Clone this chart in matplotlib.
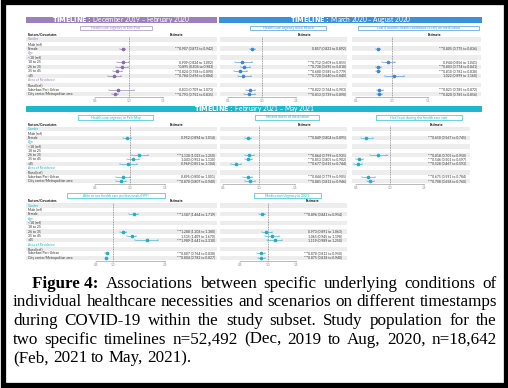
import matplotlib
matplotlib.use("Agg")
import matplotlib.pyplot as plt
from matplotlib.patches import Rectangle
import matplotlib.transforms as mtransforms
import numpy as np

W, H, DPI = 508, 388, 100

# ---------------- data ----------------
covariates = ["Gender", "Male (ref)", "Female", "Age", "<18 (ref)", "18 to 25",
              "26 to 35", "35 to 45", ">45", "Area of Residence", "Rural (ref)",
              "Suburban/Peri-Urban", "City center/Metropolitan area"]
group_rows = ["Gender", "Age", "Area of Residence"]
nan = np.nan

timeline_1 = "December 2019 \u2013 February 2020"
timeline_2 = "March 2020 \u2013 August 2020"
timeline_3 = "February 2021 \u2013 May 2021"

# Panel 1: Health care urgency in Dec-Feb
p1_title = "Health care urgency in Dec-Feb"
p1_est = [nan, nan, 0.907, nan, nan, 0.909, 0.895, 0.824, 0.784, nan, nan, 0.833, 0.793]
p1_lo  = [nan, nan, 0.873, nan, nan, 0.824, 0.804, 0.758, 0.696, nan, nan, 0.709, 0.752]
p1_hi  = [nan, nan, 0.942, nan, nan, 1.002, 0.983, 0.890, 0.884, nan, nan, 1.073, 0.835]
p1_sig = ["", "", "***", "", "", "", "*", "***", "***", "", "", "", "***"]

# Panel 2: Health care urgency since March
p2_title = "Health care urgency since March"
p2_est = [nan, nan, 0.857, nan, nan, 0.712, 0.738, 0.680, 0.720, nan, nan, 0.822, 0.813]
p2_lo  = [nan, nan, 0.823, nan, nan, 0.609, 0.695, 0.585, 0.640, nan, nan, 0.764, 0.739]
p2_hi  = [nan, nan, 0.892, nan, nan, 0.855, 0.818, 0.779, 0.840, nan, nan, 0.903, 0.890]
p2_sig = ["", "", "", "", "", "***", "***", "***", "***", "", "", "***", "***"]

# Panel 3: Last 6 months health conditions to rely on medication
p3_title = "Last 6 months health conditions to rely on medication"
p3_est = [nan, nan, 0.805, nan, nan, 0.944, 0.803, 0.810, 1.022, nan, nan, 0.821, 0.820]
p3_lo  = [nan, nan, 0.775, nan, nan, 0.856, 0.774, 0.782, 0.899, nan, nan, 0.785, 0.785]
p3_hi  = [nan, nan, 0.836, nan, nan, 1.041, 0.841, 0.838, 1.160, nan, nan, 0.872, 0.856]
p3_sig = ["", "", "***", "", "", "", "***", "***", "", "", "", "***", "***"]

# Panel 4: Health care urgency in Feb-May
p4_title = "Health care urgency in Feb-May"
p4_est = [nan, nan, 0.952, nan, nan, nan, 1.130, 1.043, 0.969, nan, nan, 0.895, 0.870]
p4_lo  = [nan, nan, 0.894, nan, nan, nan, 1.023, 0.953, 0.851, nan, nan, 0.800, 0.807]
p4_hi  = [nan, nan, 1.014, nan, nan, nan, 1.250, 1.130, 1.104, nan, nan, 1.001, 0.940]
p4_sig = ["", "", "", "", "", "", "***", "", "", "", "", "", "***"]

# Panel 5: Missed doses of medication
p5_title = "Missed doses of medication"
p5_est = [nan, nan, 0.849, nan, nan, nan, 0.864, 0.853, 0.677, nan, nan, 0.844, 0.881]
p5_lo  = [nan, nan, 0.804, nan, nan, nan, 0.799, 0.805, 0.615, nan, nan, 0.779, 0.812]
p5_hi  = [nan, nan, 0.895, nan, nan, nan, 0.935, 0.902, 0.744, nan, nan, 0.905, 0.946]
p5_sig = ["", "", "***", "", "", "", "***", "***", "***", "", "", "***", "***"]

# Panel 6: Had fever during the health care visit
p6_title = "Had fever during the health care visit"
p6_est = [nan, nan, 0.650, nan, nan, nan, 0.818, 0.546, 0.528, nan, nan, 0.675, 0.708]
p6_lo  = [nan, nan, 0.567, nan, nan, nan, 0.705, 0.501, 0.467, nan, nan, 0.591, 0.658]
p6_hi  = [nan, nan, 0.745, nan, nan, nan, 0.950, 0.597, 0.593, nan, nan, 0.784, 0.760]
p6_sig = ["", "", "***", "", "", "", "***", "***", "***", "", "", "***", "***"]

# Panel 7: Able to see health care professionals (HP)?
p7_title = "Able to see health care professionals (HP)?"
p7_est = [nan, nan, 1.587, nan, nan, nan, 1.288, 1.535, 1.989, nan, nan, 0.807, 0.804]
p7_lo  = [nan, nan, 1.464, nan, nan, nan, 1.208, 1.409, 1.641, nan, nan, 0.764, 0.782]
p7_hi  = [nan, nan, 1.719, nan, nan, nan, 1.380, 1.670, 2.310, nan, nan, 0.838, 0.827]
p7_sig = ["", "", "***", "", "", "", "***", "", "***", "", "", "***", "***"]

# Panel 8: Medication Urgency in 2021
p8_title = "Medication Urgency in 2021"
p8_est = [nan, nan, 0.896, nan, nan, nan, 0.973, 1.065, 1.119, nan, nan, 0.878, 0.875]
p8_lo  = [nan, nan, 0.841, nan, nan, nan, 0.891, 0.945, 0.989, nan, nan, 0.812, 0.818]
p8_hi  = [nan, nan, 0.954, nan, nan, nan, 1.063, 1.198, 1.250, nan, nan, 0.950, 0.940]
p8_sig = ["", "", "***", "", "", "", "", "", "", "", "", "***", "***"]

caption_bold = "Figure 4:"
caption_lines = [
    "Associations between specific underlying conditions of",
    "individual healthcare necessities and scenarios on different timestamps",
    "during COVID-19 within the study subset. Study population for the",
    "two specific timelines n=52,492 (Dec, 2019 to Aug, 2020, n=18,642",
    "(Feb, 2021 to May, 2021).",
]

# ---------------- style ----------------
PURPLE = "#9c80bb"
BLUE = "#3b90da"
CYAN = "#1db8cc"
PT_PURPLE = "#8a6aae"
PT_BLUE = "#3f86d2"
PT_CYAN = "#22aec6"
BAND = "#ededed"
SANS = ["Lato", "DejaVu Sans"]

fig = plt.figure(figsize=(W / DPI, H / DPI), dpi=DPI)
fig.patch.set_facecolor("white")


def add_ax(x0, x1, y0, y1, z=1):
    ax = fig.add_axes([x0 / W, 1 - y1 / H, (x1 - x0) / W, (y1 - y0) / H])
    ax.set_zorder(z)
    return ax


def fx(x):
    return x / W


def fy(y):
    return 1 - y / H


def header_bar(x0, x1, y0, y1, color, text):
    fig.patches.append(Rectangle((fx(x0), fy(y1)), fx(x1 - x0), (y1 - y0) / H,
                                 transform=fig.transFigure, fc=color, ec="none", zorder=0))
    fig.text(fx((x0 + x1) / 2), fy((y0 + y1) / 2), r"$\bf{TIMELINE:}$ " + text,
             color="white", ha="center", va="center", fontsize=4.7, family=SANS)


def subtitle(x0, x1, yc, color, text):
    fig.patches.append(Rectangle((fx(x0), fy(yc + 2.3)), fx(x1 - x0), 4.6 / H,
                                 transform=fig.transFigure, fc="white", ec=color, lw=0.45, zorder=2))
    fig.text(fx((x0 + x1) / 2), fy(yc), text, color=color, ha="center", va="center",
             fontsize=2.5, family=SANS, zorder=3)


def panel(est, lo, hi, sig, color, ptcolor, row0, pitch, axis_y,
          band, forest, or_range, ticks, est_hdr_x, est_right, label_x=None):
    y_top = row0 - 1.5 * pitch
    idx_bottom = (axis_y - row0) / pitch
    bg = add_ax(band[0], band[1], y_top, axis_y, z=1)
    bg.set_xlim(0, 1)
    bg.set_ylim(idx_bottom, -1.5)
    bg.axis("off")
    for i in range(len(covariates)):
        if i % 2 == 0:
            bg.axhspan(i - 0.5, i + 0.5, color=BAND, lw=0)
    trans = mtransforms.blended_transform_factory(fig.transFigure, bg.transData)
    if label_x is not None:
        bg.text(fx(label_x), -1, "Factors/Covariates", transform=trans, fontsize=2.4,
                fontweight="bold", va="center", ha="left", family=SANS)
        for i, lab in enumerate(covariates):
            c = color if lab in group_rows else "#333333"
            bg.text(fx(label_x), i, lab, transform=trans, fontsize=2.4, color=c,
                    va="center", ha="left", family=SANS)
    bg.text(fx(est_hdr_x), -1, "Estimate", transform=trans, fontsize=2.4,
            fontweight="bold", va="center", ha="center", family=SANS)
    for i in range(len(covariates)):
        if not np.isnan(est[i]):
            s = f"{sig[i]}{est[i]:.3f} ({lo[i]:.3f} to {hi[i]:.3f})"
            bg.text(fx(est_right), i, s, transform=trans, fontsize=2.4, color="#333333",
                    va="center", ha="right", family=SANS)
    ax = add_ax(forest[0], forest[1], y_top, axis_y, z=2)
    ax.patch.set_alpha(0)
    ax.set_xlim(*or_range)
    ax.set_ylim(idx_bottom, -1.5)
    for sp in ["left", "top", "right"]:
        ax.spines[sp].set_visible(False)
    ax.spines["bottom"].set_color("#888888")
    ax.spines["bottom"].set_linewidth(0.4)
    ax.set_yticks([])
    ax.set_xticks(ticks)
    ax.set_xticklabels([f"{t:.1f}" for t in ticks], fontsize=2.3, color="#777777", family=SANS)
    ax.tick_params(axis="x", length=1.2, width=0.3, pad=0.6, colors="#888888")
    ax.plot([1, 1], [-0.6, idx_bottom], ls=(0, (1.5, 1.2)), color="#666666", lw=0.45)
    rows = np.arange(len(covariates))
    e = np.array(est)
    ok = ~np.isnan(e)
    ax.errorbar(e[ok], rows[ok],
                xerr=[e[ok] - np.array(lo)[ok], np.array(hi)[ok] - e[ok]],
                fmt="o", ms=1.6, color=ptcolor, ecolor=ptcolor, elinewidth=0.4,
                capsize=0.6, capthick=0.3, clip_on=False)
    return ax


# ---------- top row ----------
header_bar(26, 217, 16.5, 22.5, PURPLE, timeline_1)
header_bar(219, 482, 16.5, 22.5, BLUE, timeline_2)
subtitle(80, 152, 28, PURPLE, p1_title)
subtitle(250, 326, 28, BLUE, p2_title)
subtitle(358, 479, 28, BLUE, p3_title)

P1 = 4.55
panel(p1_est, p1_lo, p1_hi, p1_sig, PURPLE, PT_PURPLE, 39.5, P1, 97,
      (26, 217), (95, 163), (0.5, 1.5), [0.5, 1.0, 1.5], 177, 213, label_x=28)
panel(p2_est, p2_lo, p2_hi, p2_sig, BLUE, PT_BLUE, 39.5, P1, 97,
      (220, 347), (228, 296), (0.5, 1.5), [0.5, 1.0, 1.5], 304, 346)
panel(p3_est, p3_lo, p3_hi, p3_sig, BLUE, PT_BLUE, 39.5, P1, 97,
      (352, 481), (356, 428), (0.5, 1.5), [0.5, 1.0, 1.5], 434, 477)

# ---------- middle row ----------
header_bar(26, 482, 106, 112, CYAN, timeline_3)
subtitle(78, 153, 117.5, CYAN, p4_title)
subtitle(255, 319, 117.5, CYAN, p5_title)
subtitle(376, 462, 117.5, CYAN, p6_title)

P2 = 4.35
panel(p4_est, p4_lo, p4_hi, p4_sig, CYAN, PT_CYAN, 129, P2, 183.5,
      (26, 217), (95, 165), (0.5, 1.5), [0.5, 1.0, 1.5], 177, 215, label_x=28)
panel(p5_est, p5_lo, p5_hi, p5_sig, CYAN, PT_CYAN, 129, P2, 183.5,
      (220, 347), (223, 295), (0.5, 1.5), [0.5, 1.0, 1.5], 304, 346)
panel(p6_est, p6_lo, p6_hi, p6_sig, CYAN, PT_CYAN, 129, P2, 183.5,
      (352, 470), (356, 424), (0.5, 1.5), [0.5, 1.0, 1.5], 436, 466)

# ---------- bottom row ----------
subtitle(67, 165, 195.5, CYAN, p7_title)
subtitle(254, 321, 195.5, CYAN, p8_title)
panel(p7_est, p7_lo, p7_hi, p7_sig, CYAN, PT_CYAN, 205.5, P2, 261,
      (26, 217), (96, 165), (0.5, 2.5), [0.5, 1.0, 2.5], 177, 215, label_x=28)
panel(p8_est, p8_lo, p8_hi, p8_sig, CYAN, PT_CYAN, 205.5, P2, 261,
      (220, 347), (240, 296), (0.5, 1.5), [0.5, 1.0, 1.5], 312, 342)

# ---------- caption (justified lines) ----------
cap_left, cap_right, cap_indent = 13, 497, 32
line_y = [284, 302.5, 321, 339.5, 358]
renderer = fig.canvas.get_renderer()
serif = ["Liberation Serif", "DejaVu Serif"]


def word_width(w, fs, bold=False):
    t = fig.text(0, 0, w, fontsize=fs, family=serif, fontweight="bold" if bold else "normal")
    wd = t.get_window_extent(renderer).width
    t.remove()
    return wd


# size the font so that the tightest line (line 2) fills the width with ordinary spaces
ref_w = word_width(caption_lines[1], 10)
CAP_FS = 10 * (cap_right - cap_left - 2) / ref_w
space_w = word_width("a b", CAP_FS) - word_width("ab", CAP_FS)

for li, text in enumerate(caption_lines):
    words = [(w, False) for w in text.split()]
    if li == 0:
        words = [(caption_bold, True)] + words
    x0 = cap_indent if li == 0 else cap_left
    ws = [word_width(w, CAP_FS, b) for w, b in words]
    last = li == len(caption_lines) - 1
    gap = space_w if last else (cap_right - x0 - sum(ws)) / (len(ws) - 1)
    x = x0
    for (tok, bold), w in zip(words, ws):
        fig.text(fx(x), fy(line_y[li]), tok, fontsize=CAP_FS, family=serif,
                 fontweight="bold" if bold else "normal", va="center", ha="left", color="black")
        x += w + gap

# ---------- outer black frame ----------
fig.patches.append(Rectangle((fx(2.5), fy(385)), fx(503 - 2.5 + 2.5), (385 - 2) / H,
                             transform=fig.transFigure, fill=False, ec="black", lw=3.8, zorder=10))

fig.savefig("out.png", dpi=DPI)
